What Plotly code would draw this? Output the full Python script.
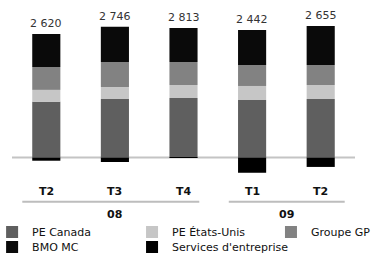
import plotly.graph_objects as go

quarters = ["T2", "T3", "T4", "T1", "T2"]
years = ["08", "08", "08", "09", "09"]
totals = ["2 620", "2 746", "2 813", "2 442", "2 655"]

pe_canada = [1210, 1272, 1294, 1251, 1272]
pe_us = [261, 261, 283, 305, 305]
groupe_gp = [500, 544, 500, 457, 435]
bmo_mc = [718, 767, 740, 761, 848]
services = [-70, -98, -4, -332, -205]

series = [
    ("PE Canada", pe_canada, "#5f5f5f"),
    ("PE États-Unis", pe_us, "#c6c6c6"),
    ("Groupe GP", groupe_gp, "#828282"),
    ("BMO MC", bmo_mc, "#0a0a0a"),
    ("Services d'entreprise", services, "#000000"),
]

# legend slot (x paper, y paper) for each series: 3 columns x 2 rows
legend_pos = [(-0.058, -0.045), (0.35, -0.045), (0.755, -0.045),
              (-0.058, -0.1126), (0.35, -0.1126)]

xs = list(range(len(quarters)))
FONT = "DejaVu Sans"

fig = go.Figure()
legend_layout = {}
for k, (name, vals, col) in enumerate(series):
    lid = "legend" if k == 0 else f"legend{k + 1}"
    fig.add_trace(go.Bar(x=xs, y=vals, name=name, marker=dict(color=col, line=dict(width=0)),
                         width=0.41, legend=lid))
    lx, ly = legend_pos[k]
    legend_layout[lid] = dict(x=lx, xanchor="left", y=ly, yanchor="middle",
                              font=dict(family=FONT, size=11, color="#111111"),
                              itemwidth=30, bgcolor="rgba(0,0,0,0)", borderwidth=0)

pos_tops = [a + b + c + d for a, b, c, d in zip(pe_canada, pe_us, groupe_gp, bmo_mc)]
for i, t in enumerate(totals):
    fig.add_annotation(x=xs[i], y=pos_tops[i], text=t, showarrow=False, yanchor="bottom", yshift=2,
                       font=dict(family=FONT, size=11, color="#333333"))

for i, q in enumerate(quarters):
    fig.add_annotation(x=xs[i], y=-744, text="<b>" + q + "</b>", showarrow=False,
                       font=dict(family=FONT, size=11, color="#111111"))

# group labels and underlines
groups = []
for i, yv in enumerate(years):
    if groups and groups[-1][0] == yv:
        groups[-1][2] = i
    else:
        groups.append([yv, i, i])
offsets = [(-0.35, 0.23), (-0.34, 0.35)]
for gi, (yv, a, b) in enumerate(groups):
    fig.add_annotation(x=(a + b) / 2, y=-1229, text="<b>" + yv + "</b>", showarrow=False,
                       font=dict(family=FONT, size=11, color="#111111"))
    fig.add_shape(type="line", x0=a + offsets[gi][0], x1=b + offsets[gi][1], y0=-961, y1=-961,
                  xref="x", yref="y", line=dict(color="#bdbdbd", width=2))

fig.add_shape(type="line", xref="paper", x0=0, x1=1, y0=0, y1=0, yref="y",
              line=dict(color="#c4c4c4", width=2), layer="below")

fig.update_layout(
    width=376, height=256,
    margin=dict(l=12, r=21, t=0, b=34, autoexpand=False),
    barmode="relative",
    paper_bgcolor="white", plot_bgcolor="white",
    xaxis=dict(visible=False, range=[-0.5, 4.5]),
    yaxis=dict(visible=False, range=[-1403, 3426]),
    showlegend=True,
    font=dict(family=FONT),
    **legend_layout,
)

fig.write_html("out.html", config={"displayModeBar": False},
               post_script="document.body.style.margin='0';document.body.style.padding='0';")
